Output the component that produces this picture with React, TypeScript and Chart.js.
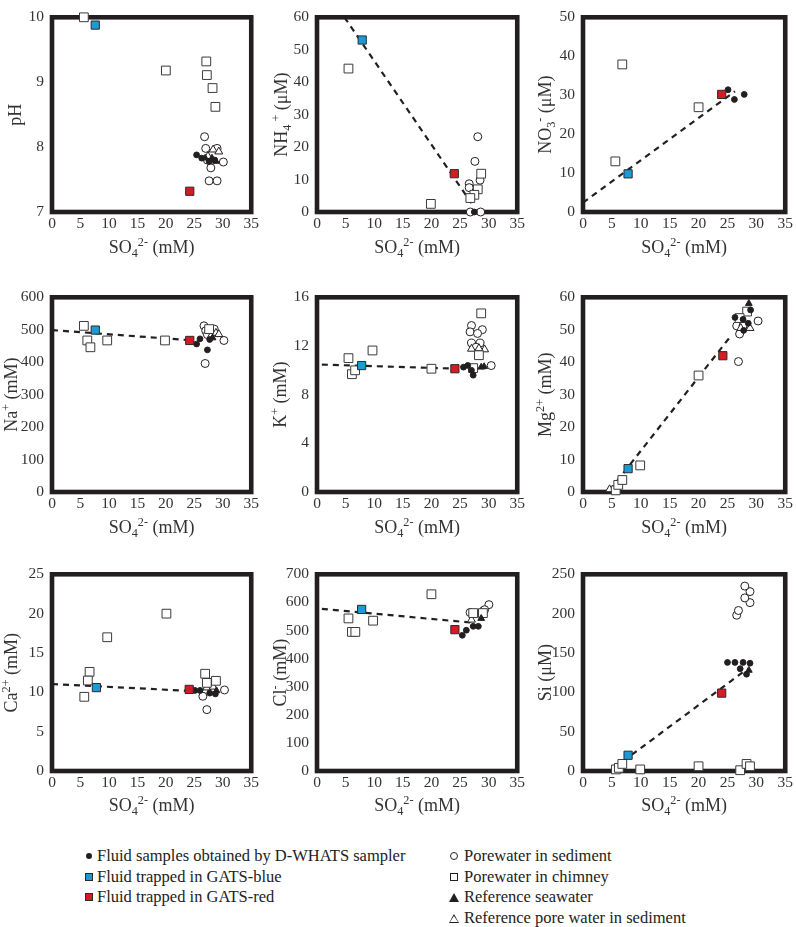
import React, { useEffect, useRef } from 'react';
import { Chart, registerables } from 'chart.js';

Chart.register(...registerables);

// ---------- shared axis values ----------
const SO4_MIN = 0;
const SO4_MAX = 35;
const SO4_STEP = 5;

// ---------- pH ----------
const PH_DWHATS = [[25.4, 7.88], [26.3, 7.83], [27.6, 7.78], [28.6, 7.8]];
const PH_BLUE = [[7.6, 9.88]];
const PH_RED = [[24.2, 7.32]];
const PH_SED = [[26.8, 8.16], [27.0, 7.98], [29.0, 7.98], [30.1, 7.77], [27.9, 7.68], [27.6, 7.48], [29.0, 7.48], [27.3, 7.8]];
const PH_CHIM = [[5.6, 10.0], [20.0, 9.18], [27.1, 9.32], [27.2, 9.11], [28.2, 8.91], [28.7, 8.62]];
const PH_SEA = [[26.9, 7.83], [28.1, 7.83], [28.8, 7.78]];
const PH_PORE = [[28.3, 7.96], [29.3, 7.93], [27.4, 7.86]];
const PH_LINE: number[][] = [];

// ---------- NH4+ ----------
const NH4_DWHATS = [[27.5, 0]];
const NH4_BLUE = [[7.9, 53]];
const NH4_RED = [[24.0, 11.8]];
const NH4_SED = [[28.1, 23.2], [27.6, 15.6], [28.5, 9.8], [26.6, 8.7], [26.6, 7.5], [26.8, 0], [28.6, 0]];
const NH4_CHIM = [[5.5, 44.2], [19.9, 2.5], [28.7, 11.8], [28.1, 7.0], [27.5, 5.3], [26.8, 4.3]];
const NH4_SEA: number[][] = [];
const NH4_PORE: number[][] = [];
const NH4_LINE = [[4.8, 60], [27.0, 2.7]];

// ---------- NO3- ----------
const NO3_DWHATS = [[25.1, 31.4], [26.2, 28.9], [27.9, 30.2]];
const NO3_BLUE = [[7.8, 9.8]];
const NO3_RED = [[24.0, 30.2]];
const NO3_SED: number[][] = [];
const NO3_CHIM = [[6.8, 37.9], [5.6, 13.0], [20.0, 26.9]];
const NO3_SEA: number[][] = [];
const NO3_PORE: number[][] = [];
const NO3_LINE = [[0, 2.4], [26.3, 31.0]];

// ---------- Na+ ----------
const NA_DWHATS = [[25.4, 456], [26.0, 472], [27.3, 438], [27.7, 470]];
const NA_BLUE = [[7.6, 499]];
const NA_RED = [[24.2, 467]];
const NA_SED = [[26.7, 512], [27.0, 497], [26.9, 396], [30.2, 467], [28.5, 502], [27.3, 485]];
const NA_CHIM = [[5.6, 512], [6.2, 467], [6.75, 446], [9.7, 467], [19.85, 467], [27.6, 502]];
const NA_SEA = [[28.2, 475]];
const NA_PORE = [[28.8, 490], [29.3, 486], [27.9, 480]];
const NA_LINE = [[0, 499], [24.8, 467]];

// ---------- K+ ----------
const K_DWHATS = [[25.6, 10.26], [26.35, 10.4], [27.3, 9.6], [27.0, 10.0]];
const K_BLUE = [[7.8, 10.39]];
const K_RED = [[24.1, 10.13]];
const K_SED = [[27.0, 13.68], [28.9, 13.34], [26.75, 13.16], [28.06, 13.03], [27.0, 12.24], [28.5, 12.24], [30.45, 10.39], [27.8, 11.9]];
const K_CHIM = [[5.5, 11.0], [9.7, 11.63], [6.1, 9.68], [6.66, 10.0], [20.0, 10.13], [28.7, 14.68], [28.3, 11.24], [27.3, 10.18]];
const K_SEA = [[28.7, 10.26], [29.2, 10.3]];
const K_PORE = [[27.0, 11.76], [29.3, 11.71], [28.3, 11.8]];
const K_LINE = [[0.85, 10.47], [24.75, 10.13]];

// ---------- Mg2+ ----------
const MG_DWHATS = [[26.3, 53.8], [29.0, 56.1], [27.7, 53.2], [28.6, 52.0], [27.8, 49.8]];
const MG_BLUE = [[7.8, 7.2]];
const MG_RED = [[24.2, 42.0]];
const MG_SED = [[26.9, 40.2], [30.3, 52.7], [26.6, 51.2], [27.7, 51.2], [27.1, 48.7]];
const MG_CHIM = [[5.66, 0.5], [6.1, 2.2], [6.8, 3.7], [9.9, 8.2], [20.0, 35.9], [28.4, 55.6], [27.1, 53.6]];
const MG_SEA = [[28.7, 58.1]];
const MG_PORE = [[27.3, 50.5], [28.9, 50.5], [4.6, 0.8]];
const MG_LINE = [[4.64, 0.5], [25.5, 47.9]];

// ---------- Ca2+ ----------
const CA_DWHATS = [[25.1, 10.24], [26.0, 10.24], [27.7, 9.9], [28.7, 9.8]];
const CA_BLUE = [[7.8, 10.6]];
const CA_RED = [[24.1, 10.37]];
const CA_SED = [[27.2, 7.8], [30.3, 10.3], [26.5, 9.5], [28.0, 10.5]];
const CA_CHIM = [[20.1, 20.0], [9.7, 17.0], [6.6, 12.6], [6.3, 11.5], [5.67, 9.43], [26.9, 12.36], [27.2, 11.2], [28.8, 11.46]];
const CA_SEA = [[28.9, 10.2]];
const CA_PORE = [[27.2, 10.6], [28.3, 10.7]];
const CA_LINE = [[0, 11.06], [24.8, 10.16]];

// ---------- Cl- ----------
const CL_DWHATS = [[25.4, 483], [26.1, 501], [27.3, 515], [28.2, 515]];
const CL_BLUE = [[7.8, 575]];
const CL_RED = [[24.1, 503]];
const CL_SED = [[26.75, 564], [30.05, 592], [29.3, 574], [27.6, 560]];
const CL_CHIM = [[20.0, 629], [5.5, 543], [6.1, 495], [6.7, 495], [9.8, 535], [27.3, 562], [29.0, 562]];
const CL_SEA = [[28.7, 543]];
const CL_PORE = [[27.0, 538], [28.6, 565]];
const CL_LINE = [[0.85, 577], [27.0, 528]];

// ---------- Si ----------
const SI_DWHATS = [[25.0, 138], [26.3, 138], [27.7, 138], [28.9, 137], [27.2, 130], [28.3, 123]];
const SI_BLUE = [[7.8, 20]];
const SI_RED = [[24.0, 99]];
const SI_SED = [[26.6, 198], [26.9, 204], [28.9, 214], [28.0, 220], [28.9, 228], [28.0, 235]];
const SI_CHIM = [[5.7, 2], [6.2, 4], [6.8, 9], [9.9, 2], [20, 6], [27.2, 1], [28.3, 9], [28.9, 6]];
const SI_SEA = [[28.7, 128]];
const SI_PORE: number[][] = [];
const SI_LINE = [[5.4, 4], [28.3, 129]];

// ---------- legend labels ----------
const LEGEND_LEFT = ['Fluid samples obtained by D-WHATS sampler', 'Fluid trapped in GATS-blue', 'Fluid trapped in GATS-red'];
const LEGEND_RIGHT = ['Porewater in sediment', 'Porewater in chimney', 'Reference seawater', 'Reference pore water in sediment'];

// ---------- styles ----------
const FONT = '"Liberation Serif", "Times New Roman", serif';
const INK = '#231f20';
const TEXT = '#333333';
const BLUE = '#1c9ad6';
const RED = '#d51b23';

type Seg = { t: string; m?: 'sub' | 'sup' };

const X_TITLE: Seg[] = [{ t: 'SO' }, { t: '4', m: 'sub' }, { t: '2-', m: 'sup' }, { t: ' (mM)' }];

interface Panel {
  row: number;
  col: number;
  yMin: number;
  yMax: number;
  yStep: number;
  yTitle: Seg[];
  yTitleX: number;
  dw: number[][];
  blue: number[][];
  red: number[][];
  sed: number[][];
  chim: number[][];
  sea: number[][];
  pore: number[][];
  line: number[][];
}

const PANELS: Panel[] = [
  { row: 0, col: 0, yMin: 7, yMax: 10, yStep: 1, yTitle: [{ t: 'pH' }], yTitleX: 15,
    dw: PH_DWHATS, blue: PH_BLUE, red: PH_RED, sed: PH_SED, chim: PH_CHIM, sea: PH_SEA, pore: PH_PORE, line: PH_LINE },
  { row: 0, col: 1, yMin: 0, yMax: 60, yStep: 10, yTitle: [{ t: 'NH' }, { t: '4', m: 'sub' }, { t: ' +', m: 'sup' }, { t: ' (\u03bcM)' }], yTitleX: 281,
    dw: NH4_DWHATS, blue: NH4_BLUE, red: NH4_RED, sed: NH4_SED, chim: NH4_CHIM, sea: NH4_SEA, pore: NH4_PORE, line: NH4_LINE },
  { row: 0, col: 2, yMin: 0, yMax: 50, yStep: 10, yTitle: [{ t: 'NO' }, { t: '3', m: 'sub' }, { t: '-', m: 'sup' }, { t: ' (\u03bcM)' }], yTitleX: 545,
    dw: NO3_DWHATS, blue: NO3_BLUE, red: NO3_RED, sed: NO3_SED, chim: NO3_CHIM, sea: NO3_SEA, pore: NO3_PORE, line: NO3_LINE },
  { row: 1, col: 0, yMin: 0, yMax: 600, yStep: 100, yTitle: [{ t: 'Na' }, { t: '+', m: 'sup' }, { t: ' (mM)' }], yTitleX: 11,
    dw: NA_DWHATS, blue: NA_BLUE, red: NA_RED, sed: NA_SED, chim: NA_CHIM, sea: NA_SEA, pore: NA_PORE, line: NA_LINE },
  { row: 1, col: 1, yMin: 0, yMax: 16, yStep: 4, yTitle: [{ t: 'K' }, { t: '+', m: 'sup' }, { t: ' (mM)' }], yTitleX: 280,
    dw: K_DWHATS, blue: K_BLUE, red: K_RED, sed: K_SED, chim: K_CHIM, sea: K_SEA, pore: K_PORE, line: K_LINE },
  { row: 1, col: 2, yMin: 0, yMax: 60, yStep: 10, yTitle: [{ t: 'Mg' }, { t: '2+', m: 'sup' }, { t: ' (mM)' }], yTitleX: 545,
    dw: MG_DWHATS, blue: MG_BLUE, red: MG_RED, sed: MG_SED, chim: MG_CHIM, sea: MG_SEA, pore: MG_PORE, line: MG_LINE },
  { row: 2, col: 0, yMin: 0, yMax: 25, yStep: 5, yTitle: [{ t: 'Ca' }, { t: '2+', m: 'sup' }, { t: ' (mM)' }], yTitleX: 11,
    dw: CA_DWHATS, blue: CA_BLUE, red: CA_RED, sed: CA_SED, chim: CA_CHIM, sea: CA_SEA, pore: CA_PORE, line: CA_LINE },
  { row: 2, col: 1, yMin: 0, yMax: 700, yStep: 100, yTitle: [{ t: 'Cl' }, { t: '-', m: 'sup' }, { t: ' (mM)' }], yTitleX: 280,
    dw: CL_DWHATS, blue: CL_BLUE, red: CL_RED, sed: CL_SED, chim: CL_CHIM, sea: CL_SEA, pore: CL_PORE, line: CL_LINE },
  { row: 2, col: 2, yMin: 0, yMax: 250, yStep: 50, yTitle: [{ t: 'Si (\u03bcM)' }], yTitleX: 545,
    dw: SI_DWHATS, blue: SI_BLUE, red: SI_RED, sed: SI_SED, chim: SI_CHIM, sea: SI_SEA, pore: SI_PORE, line: SI_LINE },
];

// page layout (pixels)
const COLS = [
  { left: 0, width: 262, plotLeft: 52, plotRight: 258 },
  { left: 262, width: 266, plotLeft: 317, plotRight: 523 },
  { left: 528, width: 268, plotLeft: 583, plotRight: 789 },
];
const ROWS = [
  { top: 0, height: 270, plotTop: 7, plotBottom: 212, xTitleY: 247 },
  { top: 280, height: 270, plotTop: 289, plotBottom: 492, xTitleY: 527 },
  { top: 557, height: 270, plotTop: 567, plotBottom: 771, xTitleY: 805 },
];

function drawRich(ctx: CanvasRenderingContext2D, segs: Seg[], x: number, y: number, size: number, rotate: boolean) {
  ctx.save();
  ctx.translate(x, y);
  if (rotate) ctx.rotate(-Math.PI / 2);
  const fontFor = (m?: string) => `${m ? size * 0.68 : size}px ${FONT}`;
  let total = 0;
  const widths: number[] = [];
  for (const s of segs) {
    ctx.font = fontFor(s.m);
    const w = ctx.measureText(s.t).width;
    widths.push(w);
    total += w;
  }
  let cx = -total / 2;
  ctx.textBaseline = 'alphabetic';
  ctx.textAlign = 'left';
  ctx.fillStyle = TEXT;
  segs.forEach((s, i) => {
    ctx.font = fontFor(s.m);
    const dy = s.m === 'sub' ? size * 0.2 : s.m === 'sup' ? -size * 0.38 : 0;
    ctx.fillText(s.t, cx, size * 0.34 + dy);
    cx += widths[i];
  });
  ctx.restore();
}

function pts(a: number[][]) {
  return a.map(([x, y]) => ({ x, y }));
}

function PanelChart({ p }: { p: Panel }) {
  const ref = useRef<HTMLCanvasElement>(null);
  const c = COLS[p.col];
  const r = ROWS[p.row];
  useEffect(() => {
    const canvas = ref.current;
    if (!canvas) return;
    const yAxisW = c.plotLeft - c.left;
    const padRight = c.left + c.width - c.plotRight;
    const padTop = r.plotTop - r.top;
    const xAxisH = r.top + r.height - r.plotBottom;

    const framePlugin = {
      id: 'frame',
      beforeDatasetsDraw(chart: any) {
        const { ctx, chartArea: a } = chart;
        ctx.save();
        ctx.strokeStyle = INK;
        ctx.lineWidth = 4.6;
        ctx.strokeRect(a.left, a.top, a.right - a.left, a.bottom - a.top);
        ctx.restore();
      },
      afterDraw(chart: any) {
        const { ctx, chartArea: a } = chart;
        drawRich(ctx, X_TITLE, (a.left + a.right) / 2, r.xTitleY - r.top, 18, false);
        drawRich(ctx, p.yTitle, p.yTitleX - c.left, (a.top + a.bottom) / 2, 18, true);
      },
    };

    const marker = (style: string, radius: number, fill: string, stroke: string, order: number) => ({
      pointStyle: style,
      pointRadius: radius,
      pointHoverRadius: radius,
      pointBackgroundColor: fill,
      pointBorderColor: stroke,
      pointBorderWidth: 1,
      pointHoverBorderWidth: 1,
      showLine: false,
      clip: false,
      order,
    });

    const datasets: any[] = [
      { label: 'trend', data: pts(p.line), showLine: true, borderColor: INK, borderWidth: 2.2, borderDash: [6, 5], pointRadius: 0, pointHoverRadius: 0, fill: false, clip: false, order: 20 },
      { label: 'sed', data: pts(p.sed), ...marker('circle', 4, '#ffffff', INK, 9) },
      { label: 'pore', data: pts(p.pore), ...marker('triangle', 4.6, '#ffffff', INK, 8) },
      { label: 'chim', data: pts(p.chim), ...marker('rect', 6.2, '#ffffff', '#3a3a3a', 7) },
      { label: 'sea', data: pts(p.sea), ...marker('triangle', 3.9, INK, INK, 6) },
      { label: 'dw', data: pts(p.dw), ...marker('circle', 2.9, INK, INK, 5) },
      { label: 'blue', data: pts(p.blue), ...marker('rect', 5.8, BLUE, '#2b2b2b', 4) },
      { label: 'red', data: pts(p.red), ...marker('rect', 5.8, RED, '#2b2b2b', 3) },
    ];

    const tickFont = { family: FONT, size: 15.5 };
    const chart = new Chart(canvas, {
      type: 'scatter',
      data: { datasets },
      options: {
        animation: false,
        responsive: false,
        maintainAspectRatio: false,
        events: [],
        layout: { padding: { top: padTop, right: padRight, bottom: 0, left: 0 } },
        plugins: { legend: { display: false }, tooltip: { enabled: false } },
        scales: {
          x: {
            type: 'linear',
            min: SO4_MIN,
            max: SO4_MAX,
            ticks: { stepSize: SO4_STEP, font: tickFont, color: TEXT, padding: 3, maxRotation: 0, autoSkip: false },
            grid: { display: false, drawTicks: false },
            border: { display: false },
            afterFit: (s: any) => { s.height = xAxisH; },
          },
          y: {
            type: 'linear',
            min: p.yMin,
            max: p.yMax,
            ticks: { stepSize: p.yStep, font: tickFont, color: TEXT, padding: 8, autoSkip: false },
            grid: { display: false, drawTicks: false },
            border: { display: false },
            afterFit: (s: any) => { s.width = yAxisW; },
          },
        },
      } as any,
      plugins: [framePlugin],
    });
    return () => chart.destroy();
  }, []);
  return (
    <canvas
      ref={ref}
      width={c.width}
      height={r.height}
      style={{ position: 'absolute', left: c.left, top: r.top, width: c.width, height: r.height, display: 'block' }}
    />
  );
}

function LegendMark({ kind }: { kind: string }) {
  const base: React.CSSProperties = { display: 'inline-block', boxSizing: 'border-box' };
  if (kind === 'dot') return <span style={{ ...base, width: 6, height: 6, borderRadius: '50%', background: INK }} />;
  if (kind === 'blue') return <span style={{ ...base, width: 8, height: 8, background: BLUE, border: '1px solid #2b2b2b' }} />;
  if (kind === 'red') return <span style={{ ...base, width: 8, height: 8, background: RED, border: '1px solid #2b2b2b' }} />;
  if (kind === 'circle') return <span style={{ ...base, width: 8, height: 8, borderRadius: '50%', border: '1px solid ' + INK }} />;
  if (kind === 'square') return <span style={{ ...base, width: 8, height: 8, border: '1px solid ' + INK }} />;
  if (kind === 'tri')
    return <span style={{ ...base, width: 0, height: 0, borderLeft: '5px solid transparent', borderRight: '5px solid transparent', borderBottom: '9px solid ' + INK }} />;
  // open triangle
  return (
    <span style={{ ...base, position: 'relative', width: 0, height: 0, borderLeft: '5.5px solid transparent', borderRight: '5.5px solid transparent', borderBottom: '9.5px solid ' + INK }}>
      <span style={{ position: 'absolute', left: -4, top: 2.2, width: 0, height: 0, borderLeft: '4px solid transparent', borderRight: '4px solid transparent', borderBottom: '6.6px solid #fff' }} />
    </span>
  );
}

const LEFT_KINDS = ['dot', 'blue', 'red'];
const RIGHT_KINDS = ['circle', 'square', 'tri', 'otri'];
const LEGEND_ROW_Y = [856, 877, 897, 918];

function Legend() {
  const item = (label: string, kind: string, markX: number, textX: number, y: number) => (
    <div key={label} style={{ position: 'absolute', left: 0, top: y - 10, height: 20, width: 796 }}>
      <div style={{ position: 'absolute', left: markX - 6, top: 0, width: 12, height: 20, display: 'flex', alignItems: 'center', justifyContent: 'center' }}>
        <LegendMark kind={kind} />
      </div>
      <div style={{ position: 'absolute', left: textX, top: 0, height: 20, lineHeight: '20px', fontFamily: FONT, fontSize: 16.5, color: '#222', whiteSpace: 'nowrap' }}>
        {label}
      </div>
    </div>
  );
  return (
    <>
      {LEGEND_LEFT.map((l, i) => item(l, LEFT_KINDS[i], 89, 97, LEGEND_ROW_Y[i]))}
      {LEGEND_RIGHT.map((l, i) => item(l, RIGHT_KINDS[i], 454, 464, LEGEND_ROW_Y[i]))}
    </>
  );
}

export default function App() {
  return (
    <div style={{ position: 'absolute', left: 0, top: 0, width: 796, height: 927, background: '#fff', overflow: 'hidden' }}>
      {PANELS.map((p, i) => (
        <PanelChart key={i} p={p} />
      ))}
      <Legend />
    </div>
  );
}
